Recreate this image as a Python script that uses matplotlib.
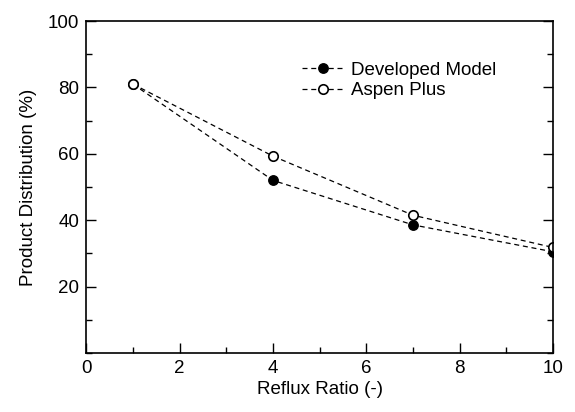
import matplotlib
matplotlib.use("Agg")
import matplotlib.pyplot as plt
from matplotlib.ticker import MultipleLocator

plt.rcParams['font.family'] = ['Liberation Sans', 'DejaVu Sans']

reflux_ratio = [1, 4, 7, 10]
developed_model = [81.0, 52.0, 38.6, 30.5]
aspen_plus = [81.0, 59.3, 41.5, 31.8]

fig = plt.figure(figsize=(5.75, 4.12), dpi=100)
ax = fig.add_axes([0.150, 0.143, 0.812, 0.806])

ax.plot(reflux_ratio, developed_model, "k--", lw=0.9, dashes=(4, 3),
        marker="o", ms=6.8, mfc="black", mec="black", label="Developed Model")
ax.plot(reflux_ratio, aspen_plus, "k--", lw=0.9, dashes=(4, 3),
        marker="o", ms=6.8, mfc="white", mec="black", mew=1.2, label="Aspen Plus")

ax.set_xlim(0, 10)
ax.set_ylim(0, 100)
ax.xaxis.set_major_locator(MultipleLocator(2))
ax.xaxis.set_minor_locator(MultipleLocator(1))
ax.set_yticks([20, 40, 60, 80, 100])
ax.yaxis.set_minor_locator(MultipleLocator(10))
ax.tick_params(which="both", direction="in", right=True, top=False,
               labelsize=13.5, width=1)
ax.tick_params(which="major", length=7, pad=5)
ax.tick_params(which="minor", length=4)
for s in ax.spines.values():
    s.set_linewidth(1.2)

ax.set_xlabel("Reflux Ratio (-)", fontsize=13.5, labelpad=3)
ax.set_ylabel("Product Distribution (%)", fontsize=13.5, labelpad=8)

ax.legend(loc="upper left", bbox_to_anchor=(0.462, 0.877), frameon=False,
          fontsize=13.5, handlelength=2.2, handletextpad=0.4,
          labelspacing=0.18, borderaxespad=0, borderpad=0)

fig.savefig("out.png", dpi=100)
